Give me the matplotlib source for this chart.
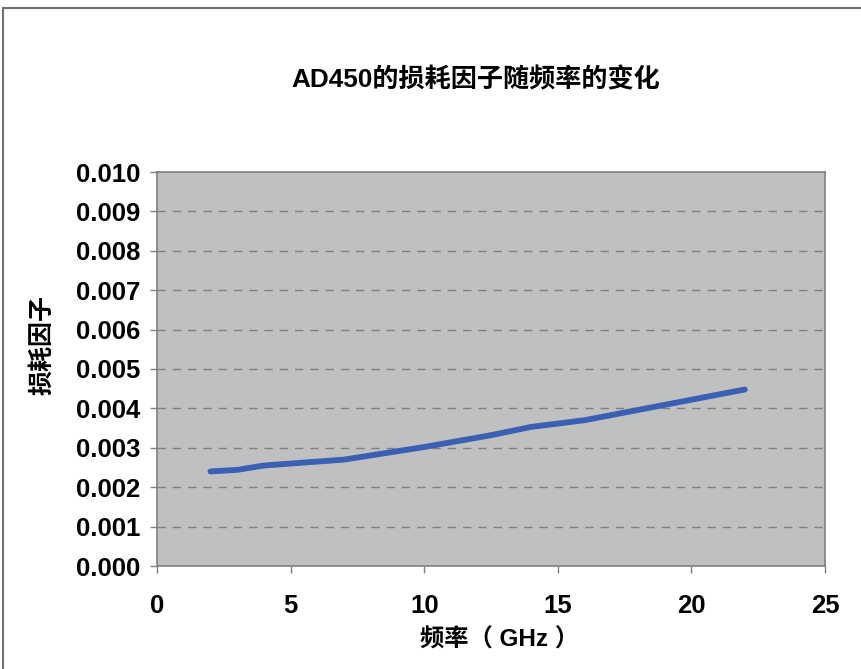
import matplotlib
matplotlib.use("Agg")
import matplotlib.pyplot as plt
from matplotlib.lines import Line2D

plt.rcParams['font.family'] = ['Liberation Sans', 'Noto Sans CJK SC']

freq_ghz = [2, 3, 4, 7, 10, 12.5, 14, 16, 22]
loss_factor = [0.0024, 0.00244, 0.00255, 0.0027, 0.00302, 0.00332, 0.00353, 0.0037, 0.00448]
x_ticks = [0, 5, 10, 15, 20, 25]
y_ticks = [i / 1000 for i in range(11)]
title = "AD450的损耗因子随频率的变化"
xlabel = "频率（ GHz ）"
ylabel = "损耗因子"

fig = plt.figure(figsize=(8.61, 6.69), dpi=100)
ax = fig.add_axes([157/861, 1-566/669, (825-157)/861, (566-172)/669])
ax.set_facecolor('#C0C0C0')

ax.plot(freq_ghz, loss_factor, color='#3A60B4', lw=4.2, solid_capstyle='round', solid_joinstyle='round', zorder=3)

ax.set_xlim(0, 25)
ax.set_ylim(0, 0.010)
ax.set_xticks(x_ticks)
ax.set_yticks(y_ticks)
ax.set_yticklabels([f"{v:.3f}" for v in y_ticks])
for v in y_ticks[1:-1]:
    ax.axhline(v, color='#808080', lw=1, ls=(0, (6, 5)), zorder=1)

for s in ax.spines.values():
    s.set_color('#808080')
    s.set_linewidth(1.2)

ax.tick_params(axis='y', direction='out', length=5, width=1, color='#808080', pad=7, labelsize=18.5)
ax.tick_params(axis='x', direction='out', length=5, width=1, color='#808080', pad=15, labelsize=18.5)
for lab in ax.get_xticklabels() + ax.get_yticklabels():
    lab.set_fontweight('bold')

fig.text(476/861, 1-80/669, title, ha='center', va='center', fontsize=18.8, fontweight='bold')
fig.text(499/861, 1-640/669, xlabel, ha='center', va='center', fontsize=17.5, fontweight='bold')
fig.text(42/861, 1-345/669, ylabel, ha='center', va='center', rotation=90, fontsize=18, fontweight='bold')

fig.add_artist(Line2D([3/861, 1], [1-8/669, 1-8/669], color='#707070', lw=1.5, transform=fig.transFigure))
fig.add_artist(Line2D([3/861, 3/861], [0, 1-8/669], color='#707070', lw=1.5, transform=fig.transFigure))

fig.savefig('out.png', dpi=100)
